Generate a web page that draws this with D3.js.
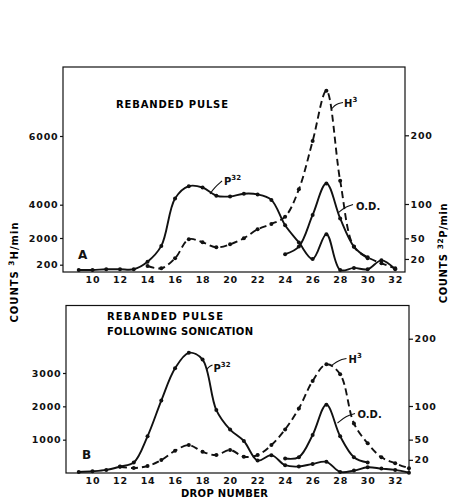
<!DOCTYPE html>
<html>
  <head>
    <meta charset="utf-8">
    <title>Rebanded pulse</title>
    <script src="https://cdn.jsdelivr.net/npm/d3@7"></script>
    <style>
      body { margin: 0; background: #fff; }
      svg { display: block; font-family: "DejaVu Sans", sans-serif; font-weight: bold; }
      .tick text { font-family: "DejaVu Sans", sans-serif; font-weight: bold; font-size: 9.5px; letter-spacing: 0.8px; fill: #111; }
    </style>
  </head>

  <body>
    <svg id="chart" width="449" height="501"></svg>

    <script>
      // drop numbers on the x axis
      dropTicks = [10, 12, 14, 16, 18, 20, 22, 24, 26, 28, 30, 32];

      // panel A: rebanded pulse
      aDropsP32 = [9, 10, 11, 12, 13, 14, 15, 16, 17, 18, 19, 20, 21, 22, 23, 24, 25, 26, 27, 28, 29, 30, 31, 32];
      aP32 = [4, 4, 5, 5, 5, 16, 39, 108, 126, 124, 112, 111, 115, 114, 106, 69, 44, 20, 56, 4, 7, 5, 18, 5];
      aDropsH3 = [14, 15, 16, 17, 18, 19, 20, 21, 22, 23, 24, 25, 26, 27, 28, 29, 30, 31, 32];
      aH3 = [164, 101, 631, 1912, 1710, 1373, 1575, 1980, 2522, 2841, 3279, 4448, 5854, 7319, 4699, 1413, 699, 294, 101];
      aDropsOD = [24, 25, 26, 27, 28, 29, 30];
      aOD = [27, 38, 84, 130, 79, 38, 21];
      aTicksH3 = [200, 2000, 4000, 6000];
      aTicksP32 = [20, 50, 100, 200];

      // panel B: following sonication
      bDropsP32 = [9, 10, 11, 12, 13, 14, 15, 16, 17, 18, 19, 20, 21, 22, 23, 24, 25, 26, 27, 28, 29, 30, 31, 32, 33];
      bP32 = [2, 3, 5, 10, 16, 55, 108, 156, 179, 169, 94, 65, 48, 19, 27, 12, 10, 14, 17, 2, 4, 9, 7, 5, 1];
      bDropsH3 = [12, 13, 14, 15, 16, 17, 18, 19, 20, 21, 22, 23, 24, 25, 26, 27, 28, 29, 30, 31, 32, 33];
      bH3 = [189, 150, 210, 389, 668, 838, 638, 539, 689, 488, 539, 838, 1308, 1937, 2763, 3263, 2964, 1488, 889, 470, 290, 141];
      bDropsOD = [24, 25, 26, 27, 28, 29, 30];
      bOD = [22, 24, 57, 102, 55, 24, 16];
      bTicksH3 = [1000, 2000, 3000];
      bTicksP32 = [20, 50, 100, 200];

      svg = d3.select("#chart");

      // one drop scale for both panels
      x = d3.scaleLinear().domain([10, 32]).range([92.5, 395.2]);
      line = d3.line()
        .x(function(d) { return x(d[0]); })
        .y(function(d) { return d[1]; })
        .curve(d3.curveCatmullRom.alpha(0.5));

      panels = [
        {
          x0: 63, x1: 405, y0: 67, y1: 272,
          // left axis labels of panel A are not evenly spaced
          yL: d3.scaleLinear().domain([0, 200, 2000, 4000, 6000]).range([272, 264.7, 238, 204.7, 136]),
          yR: d3.scaleLinear().domain([0, 200]).range([272.7, 135.3]),
          ticksL: aTicksH3, ticksR: aTicksP32,
          series: [
            { drops: aDropsP32, values: aP32, side: "R", dashed: false },
            { drops: aDropsH3, values: aH3, side: "L", dashed: true },
            { drops: aDropsOD, values: aOD, side: "R", dashed: false }
          ]
        },
        {
          x0: 66, x1: 409, y0: 305.5, y1: 473,
          yL: d3.scaleLinear().domain([0, 3000]).range([473, 373]),
          yR: d3.scaleLinear().domain([0, 200]).range([473.3, 338.7]),
          ticksL: bTicksH3, ticksR: bTicksP32,
          series: [
            { drops: bDropsP32, values: bP32, side: "R", dashed: false },
            { drops: bDropsH3, values: bH3, side: "L", dashed: true },
            { drops: bDropsOD, values: bOD, side: "R", dashed: false }
          ]
        }
      ];

      panels.forEach(function(p) {
        let g = svg.append("g");

        g.append("rect")
          .attr("x", p.x0).attr("y", p.y0)
          .attr("width", p.x1 - p.x0).attr("height", p.y1 - p.y0)
          .attr("fill", "none").attr("stroke", "#111").attr("stroke-width", 1.2);

        let left = g.append("g")
          .attr("transform", "translate(" + p.x0 + ",0)")
          .call(d3.axisLeft(p.yL).tickValues(p.ticksL).tickSize(3).tickPadding(1.5).tickFormat(d3.format("d")));
        let right = g.append("g")
          .attr("transform", "translate(" + p.x1 + ",0)")
          .call(d3.axisRight(p.yR).tickValues(p.ticksR).tickSize(4).tickPadding(1.5).tickFormat(d3.format("d")));
        let bottom = g.append("g")
          .attr("transform", "translate(0," + p.y1 + ")")
          .call(d3.axisBottom(x).tickValues(dropTicks).tickSize(0).tickPadding(4.5));
        [left, right, bottom].forEach(function(a) {
          a.select(".domain").remove();
          a.selectAll(".tick line").attr("stroke", "#111").attr("stroke-width", 1.2);
        });

        p.series.forEach(function(s) {
          let scale = s.side == "L" ? p.yL : p.yR;
          let pts = d3.zip(s.drops, s.values).map(function(d) { return [d[0], scale(d[1])]; });
          g.append("path")
            .datum(pts)
            .attr("d", line)
            .attr("fill", "none")
            .attr("stroke", "#111")
            .attr("stroke-width", 1.9)
            .attr("stroke-dasharray", s.dashed ? "7,4" : null);
          g.selectAll(null)
            .data(pts)
          .enter().append("circle")
            .attr("cx", function(d) { return x(d[0]); })
            .attr("cy", function(d) { return d[1]; })
            .attr("r", 2)
            .attr("fill", "#111");
        });
      });

      // text helpers
      function label(px, py, main, sup, size) {
        let t = svg.append("text")
          .attr("x", px).attr("y", py)
          .attr("font-size", size || 10)
          .attr("fill", "#111");
        t.append("tspan").text(main);
        if (sup) {
          t.append("tspan").attr("dy", -5).attr("font-size", 7).text(sup);
        }
        return t;
      }
      function leader(pts) {
        svg.append("path")
          .attr("d", d3.line().curve(d3.curveBasis)(pts))
          .attr("fill", "none").attr("stroke", "#111").attr("stroke-width", 1.1);
      }

      // titles
      svg.append("text").attr("x", 116).attr("y", 108).attr("font-size", 10)
        .attr("textLength", 112).attr("lengthAdjust", "spacing").text("REBANDED  PULSE");
      svg.append("text").attr("x", 107).attr("y", 320).attr("font-size", 10)
        .attr("textLength", 116).attr("lengthAdjust", "spacing").text("REBANDED  PULSE");
      svg.append("text").attr("x", 107).attr("y", 334.5).attr("font-size", 10)
        .attr("textLength", 146).attr("lengthAdjust", "spacing").text("FOLLOWING  SONICATION");
      label(78, 258.5, "A", null, 12);
      label(82, 458.5, "B", null, 12);

      // curve labels, panel A
      label(224, 185, "P", "32");
      leader([[210, 194], [214, 188], [222, 181]]);
      label(344, 107, "H", "3");
      leader([[332, 108.5], [336, 104], [343, 102.5]]);
      svg.append("text").attr("x", 356).attr("y", 209.5).attr("font-size", 10).attr("fill", "#111").text("O.D.");
      leader([[338.5, 212.5], [345, 207], [353, 204.5]]);

      // curve labels, panel B
      label(213.5, 371.5, "P", "32");
      leader([[206.5, 370], [209, 366.5], [212.5, 365]]);
      label(348.5, 362.5, "H", "3");
      leader([[331.5, 365.5], [339, 360], [346.5, 358.5]]);
      svg.append("text").attr("x", 357.5).attr("y", 418).attr("font-size", 10).attr("fill", "#111").text("O.D.");
      leader([[337.5, 423], [346, 416], [355, 413.5]]);

      // axis titles
      leftTitle = svg.append("text")
        .attr("transform", "translate(18,272) rotate(-90)")
        .attr("text-anchor", "middle").attr("font-size", 10).attr("letter-spacing", 1);
      leftTitle.append("tspan").text("COUNTS  ");
      leftTitle.append("tspan").attr("dy", -4).attr("font-size", 7.5).text("3");
      leftTitle.append("tspan").attr("dy", 4).text("H/min");

      rightTitle = svg.append("text")
        .attr("transform", "translate(447,253) rotate(-90)")
        .attr("text-anchor", "middle").attr("font-size", 10).attr("letter-spacing", 0.6);
      rightTitle.append("tspan").text("COUNTS ");
      rightTitle.append("tspan").attr("dy", -4).attr("font-size", 7.5).text("32");
      rightTitle.append("tspan").attr("dy", 4).text("P/min");

      svg.append("text").attr("x", 181).attr("y", 497).attr("font-size", 10)
        .attr("textLength", 87).attr("lengthAdjust", "spacing").text("DROP  NUMBER");
    </script>
  </body>
</html>
